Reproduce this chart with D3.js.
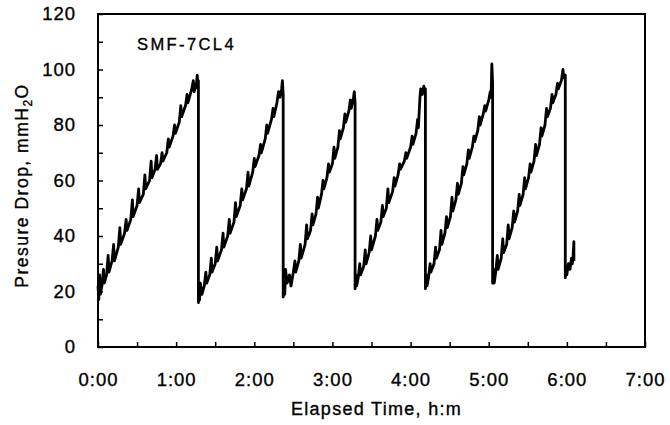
<!DOCTYPE html>
<html>
<head>
<meta charset="utf-8">
<script src="https://cdn.jsdelivr.net/npm/d3@7"></script>
<style>
  body { margin: 0; background: #fff; }
  text { font-family: "Liberation Sans", Arial, sans-serif; fill: #000; stroke: #000; stroke-width: 0.35px; }
</style>
</head>
<body>
<div id="chart"></div>
<script>
// chart size
var svgWidth = 670;
var svgHeight = 425;

var margin = { top: 14, right: 25, bottom: 78, left: 98 };
var width = svgWidth - margin.left - margin.right;
var height = svgHeight - margin.top - margin.bottom;

// tick labels
var hourTicks = [0, 1, 2, 3, 4, 5, 6, 7];
var pressureTicks = [0, 20, 40, 60, 80, 100, 120];

// [elapsed hours, pressure drop mmH2O], one array per cleaning cycle
var cycle1 = [[0.00,22],[0.01,17],[0.02,26],[0.03,19],[0.05,22],[0.07,28],[0.08,23],[0.11,26],[0.13,33],[0.14,27],
  [0.18,31],[0.20,37],[0.21,31],[0.26,36],[0.28,43],[0.29,37],[0.34,41],[0.36,46],[0.37,42],[0.42,46],[0.44,53],
  [0.45,47],[0.50,51],[0.52,57],[0.53,52],[0.58,55],[0.60,62],[0.61,57],[0.66,60],[0.68,67],[0.69,61],[0.73,64],
  [0.75,69],[0.76,64],[0.80,66],[0.82,70],[0.83,67],[0.88,70],[0.90,75],[0.91,72],[0.96,76],[0.98,80],[0.99,77],
  [1.04,81],[1.06,87],[1.07,83],[1.12,87],[1.14,91],[1.15,88],[1.20,93],[1.22,96],[1.23,92],[1.26,95],[1.27,98],
  [1.28,93],[1.285,96],[1.285,16]];
var cycle2 = [[1.29,20],[1.30,17],[1.31,23],[1.33,19],[1.36,22],[1.38,27],[1.39,23],[1.43,26],[1.45,32],[1.46,27],
  [1.50,30],[1.52,36],[1.53,31],[1.58,35],[1.60,41],[1.61,36],[1.66,40],[1.68,46],[1.69,41],[1.74,45],[1.76,52],
  [1.77,47],[1.82,51],[1.84,57],[1.85,53],[1.90,57],[1.92,63],[1.93,58],[1.98,63],[2.00,68],[2.01,65],[2.06,69],
  [2.08,73],[2.09,70],[2.14,75],[2.16,80],[2.17,77],[2.22,82],[2.24,86],[2.25,83],[2.29,88],[2.31,92],[2.33,90],
  [2.35,93],[2.36,96],[2.37,91],[2.37,18]];
var cycle3 = [[2.38,24],[2.39,19],[2.40,28],[2.42,23],[2.45,26],[2.47,22],[2.50,27],[2.52,31],[2.53,27],[2.57,31],
  [2.59,37],[2.60,32],[2.65,37],[2.67,44],[2.68,39],[2.72,42],[2.74,48],[2.75,44],[2.79,48],[2.81,54],[2.82,50],
  [2.86,55],[2.88,60],[2.89,57],[2.93,61],[2.95,66],[2.96,63],[3.00,66],[3.02,72],[3.03,68],[3.07,72],[3.09,78],
  [3.10,75],[3.14,79],[3.16,84],[3.17,81],[3.21,85],[3.23,89],[3.24,86],[3.27,90],[3.28,92],[3.29,88],[3.29,21]];
var cycle4 = [[3.30,26],[3.31,22],[3.33,25],[3.35,30],[3.36,26],[3.40,29],[3.42,35],[3.43,30],[3.47,34],[3.49,40],
  [3.50,35],[3.55,40],[3.57,46],[3.58,42],[3.62,45],[3.64,51],[3.65,47],[3.69,50],[3.71,57],[3.72,52],[3.77,56],
  [3.79,61],[3.80,58],[3.84,62],[3.86,66],[3.87,64],[3.92,67],[3.94,70],[3.95,68],[4.00,72],[4.02,76],[4.03,73],
  [4.07,77],[4.09,82],[4.10,79],[4.12,90],[4.13,93],[4.15,91],[4.17,94],[4.18,92],[4.19,93],[4.19,21]];
var cycle5 = [[4.20,26],[4.21,22],[4.23,25],[4.25,30],[4.26,27],[4.30,30],[4.32,36],[4.33,32],[4.37,35],[4.39,42],
  [4.40,37],[4.44,41],[4.46,47],[4.47,43],[4.51,47],[4.53,54],[4.54,49],[4.58,53],[4.60,59],[4.61,55],[4.65,59],
  [4.67,65],[4.68,62],[4.72,66],[4.74,71],[4.75,68],[4.79,72],[4.81,76],[4.82,74],[4.86,78],[4.88,83],[4.89,80],
  [4.93,84],[4.95,87],[4.96,85],[5.00,89],[5.02,92],[5.03,90],[5.04,102],[5.05,95],[5.05,23]];
var cycle6 = [[5.06,28],[5.07,23],[5.09,27],[5.11,33],[5.12,28],[5.16,32],[5.18,39],[5.19,34],[5.23,37],[5.25,44],
  [5.26,39],[5.30,43],[5.32,49],[5.33,45],[5.37,49],[5.39,55],[5.40,51],[5.44,55],[5.46,61],[5.47,57],[5.51,61],
  [5.53,66],[5.54,63],[5.58,67],[5.60,73],[5.61,69],[5.65,73],[5.67,79],[5.68,76],[5.72,80],[5.74,86],[5.75,83],
  [5.79,86],[5.81,91],[5.82,88],[5.86,91],[5.88,95],[5.89,93],[5.93,96],[5.95,100],[5.96,97],[5.98,98],[5.98,25]];
var cycle7 = [[5.99,29],[6.00,26],[6.02,30],[6.04,28],[6.06,32],[6.07,30],[6.08,33],[6.09,38],[6.09,31]];

var trace = cycle1.concat(cycle2, cycle3, cycle4, cycle5, cycle6, cycle7);

var svg = d3.select("#chart")
  .append("svg")
  .attr("width", svgWidth)
  .attr("height", svgHeight);

var chartGroup = svg.append("g")
  .attr("transform", `translate(${margin.left}, ${margin.top})`);

// Scaling
var xScale = d3.scaleLinear().domain([0, 7]).range([0, width]);
var yScale = d3.scaleLinear().domain([0, 120]).range([height, 0]);

// minor ticks every half hour / every 10 mmH2O, labels only on majors
var bottomAxis = d3.axisBottom(xScale)
  .tickValues(d3.range(0, 7.01, 0.5))
  .tickSize(-5)
  .tickPadding(26)
  .tickFormat(d => hourTicks.includes(d) ? d + ":00" : "");

var leftAxis = d3.axisLeft(yScale)
  .tickValues(d3.range(0, 121, 10))
  .tickSize(-5)
  .tickPadding(22)
  .tickFormat(d => pressureTicks.includes(d) ? d : "");

var xAxisG = chartGroup.append("g")
  .attr("transform", `translate(0, ${height})`)
  .call(bottomAxis);

var yAxisG = chartGroup.append("g")
  .call(leftAxis);

[xAxisG, yAxisG].forEach(function(g) {
  g.select(".domain").remove();
  g.selectAll(".tick line").attr("stroke", "#000").attr("stroke-width", 1.5);
  g.selectAll(".tick text")
    .attr("font-size", 18.5)
    .attr("letter-spacing", 1)
    .attr("font-family", "Liberation Sans, Arial, sans-serif");
});

// frame
chartGroup.append("rect")
  .attr("x", 0)
  .attr("y", 0)
  .attr("width", width)
  .attr("height", height)
  .attr("fill", "none")
  .attr("stroke", "#000")
  .attr("stroke-width", 2);

// pressure trace
var line = d3.line()
  .x(d => xScale(d[0]))
  .y(d => yScale(d[1]));

chartGroup.append("path")
  .datum(trace)
  .attr("d", line)
  .attr("fill", "none")
  .attr("stroke", "#000")
  .attr("stroke-width", 2.8)
  .attr("stroke-linejoin", "round");

// sample label
chartGroup.append("text")
  .attr("x", 39)
  .attr("y", 36)
  .attr("font-size", 16.5)
  .attr("letter-spacing", 2.4)
  .text("SMF-7CL4");

// axis titles
var yTitle = svg.append("text")
  .attr("transform", `translate(28, ${margin.top + height / 2 + 5}) rotate(-90)`)
  .attr("text-anchor", "middle")
  .attr("font-size", 17.5)
  .attr("letter-spacing", 1.5);
yTitle.append("tspan").text("Presure Drop, mmH");
yTitle.append("tspan").attr("font-size", 12).attr("dy", 4).text("2");
yTitle.append("tspan").attr("dy", -4).text("O");

svg.append("text")
  .attr("x", margin.left + width / 2 + 5)
  .attr("y", 415)
  .attr("text-anchor", "middle")
  .attr("font-size", 18)
  .attr("letter-spacing", 1.3)
  .text("Elapsed Time, h:m");
</script>
</body>
</html>
